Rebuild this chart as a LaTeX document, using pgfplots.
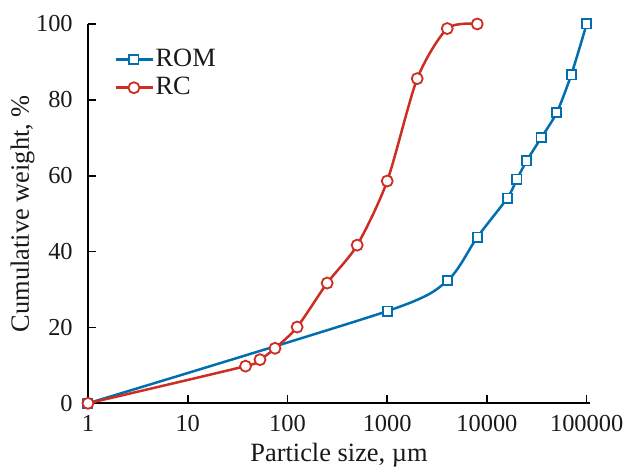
\documentclass[border=0pt]{standalone}
\usepackage{pgfplots}
\pgfplotsset{compat=1.18}
\usepackage{fontspec}
\setmainfont{Liberation Serif}
\definecolor{romblue}{RGB}{0,110,175}
\definecolor{rcred}{RGB}{205,45,35}
\begin{document}
\fontsize{24.5}{29}\selectfont
\begin{tikzpicture}
\begin{axis}[
  at={(0,0)}, anchor=south west,
  scale only axis, width=502bp, height=379.3bp,
  xmode=log, xmin=1, xmax=108000, ymin=0, ymax=100,
  axis x line=bottom, axis y line=left,
  axis line style={-, line width=2bp, black},
  xtick={1,10,100,1000,10000,100000},
  xticklabels={1,10,100,1000,10000,100000},
  ytick={0,20,40,60,80,100},
  xminorticks=false, yminorticks=false,
  tick style={line width=1.6bp, black},
  major tick length=8bp,
  tick align=inside,
  /pgf/number format/assume math mode=true,
  tick label style={font=\fontsize{24.5}{29}\selectfont, text=black!90},
  label style={font=\fontsize{26.5}{31}\selectfont, text=black!90},
  yticklabel style={xshift=-7bp},
  xticklabel style={yshift=-4bp},
  xlabel={Particle size, µm},
  ylabel={Cumulative weight, \%},
  xlabel style={at={(axis description cs:0.5,0)}, anchor=base, yshift=-58bp},
  ylabel style={at={(axis description cs:-0.1305,0.5)}, anchor=center, rotate=0},
  clip=false,
  legend cell align=left,
  legend style={draw=none, fill=none, at={(0.046,0.945)}, anchor=north west,
    font=\fontsize{26.5}{31}\selectfont, row sep=3bp, text=black!90},
  legend image code/.code={\draw[mark repeat=2,mark phase=2] plot coordinates {(0cm,0cm) (0.65cm,0cm) (1.3cm,0cm)};},
]
\addplot+[romblue, line width=2.5bp, smooth, tension=0.45, mark=square*, mark size=4.6bp,
  mark options={fill=white, draw=romblue, line width=1.8bp, solid}]
  coordinates {(1,0) (1000,24.3) (4000,32.3) (8000,43.8) (16000,54.1) (20000,59.1) (25000,63.9) (35000,70.0) (50000,76.6) (70000,86.6) (100000,100)};
\addlegendentry{ROM}
\addplot+[rcred, line width=2.5bp, smooth, tension=0.45, mark=*, mark size=5.5bp,
  mark options={fill=white, draw=rcred, line width=1.8bp, solid}]
  coordinates {(1,0) (38,9.8) (53,11.5) (75,14.5) (125,20.1) (250,31.7) (500,41.7) (1000,58.6) (2000,85.6) (4000,98.8) (8000,100)};
\addlegendentry{RC}
\end{axis}
\pgfresetboundingbox
\path (-88bp,-64.7bp) rectangle (547bp,403.3bp);
\end{tikzpicture}
\end{document}
